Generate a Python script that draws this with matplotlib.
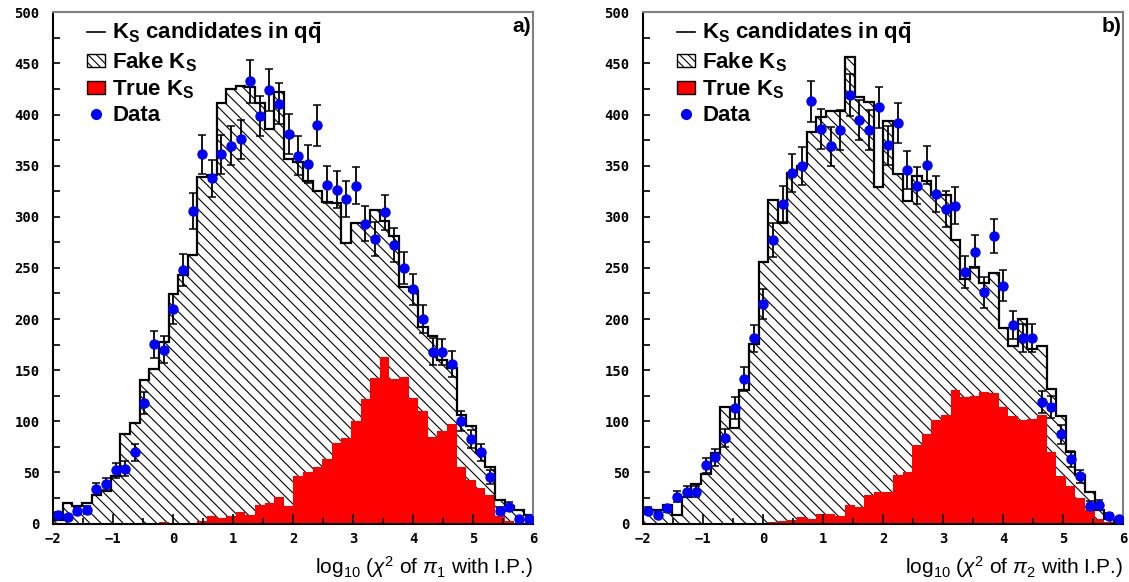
import numpy as np
import matplotlib
matplotlib.use("Agg")
import matplotlib.pyplot as plt
from matplotlib.lines import Line2D
from matplotlib.patches import Patch

# 50 bins from -2 to 6
edges = np.linspace(-2, 6, 51)
centers = 0.5 * (edges[:-1] + edges[1:])

# panel a: pi_1
a_total = [3, 20, 17, 20.5, 28, 32, 46.7, 88, 98, 140,
           151, 177.5, 224, 243, 263, 339, 341, 411, 425, 428,
           427, 411, 386, 422, 356.5, 354, 334.6, 324.8, 314, 313,
           274, 294, 294, 307, 296, 281, 231, 227, 192.5, 183,
           160, 152, 106, 95, 69, 55, 23, 17, 13, 8.5]
a_true = [0, 0, 0, 0, 0, 0, 0, 0, 0, 0,
          0, 1, 0.5, 0.5, 0.5, 2, 6.9, 5, 7.5, 10.8,
          8, 18, 20, 26.4, 17.3, 46.5, 50, 54.8, 63.3, 78.6,
          83.5, 99.8, 121.7, 142, 162.5, 141.6, 143.6, 123, 110, 85,
          90, 97, 54.8, 42.7, 35.2, 28, 6.9, 2, 0.5, 0]
a_data = [8.2, 6.2, 12.7, 13.4, 33.6, 38.5, 52.2, 53.8, 69.5, 117.8,
          175.5, 170, 210, 248, 306, 361, 337.5, 361, 369.5, 375.7,
          432.5, 398.5, 424.3, 410.6, 380.6, 359.7, 351.6, 389.4, 331.3, 326.4,
          317.3, 330.3, 293.1, 278, 304.2, 272.2, 250, 229, 200, 168,
          167.5, 156, 100.2, 82.5, 69.8, 45.4, 12.7, 16.6, 4.6, 4.6]

# panel b: pi_2
b_total = [13.4, 13.4, 18, 8.2, 26.4, 38.8, 48.6, 68.8, 113.9, 93.3,
           130.8, 175.9, 255.4, 316.3, 294, 343, 350, 382.8, 398, 403.7,
           403.7, 456, 416.8, 411.9, 329, 393.3, 342, 315, 339.5, 334.6,
           321.5, 321.5, 277, 239.5, 251, 235.7, 244.9, 191, 173.2, 200,
           170.5, 174, 131.4, 105.4, 69.5, 47.6, 31.3, 13.4, 4.2, 1]
b_true = [0, 0, 0, 0, 0, 0, 0, 0, 0, 0,
          0, 0, 0.5, 1, 2, 3, 6.2, 4.2, 9.1, 9.1,
          6.9, 18.3, 15.7, 28, 30.7, 30.7, 47, 50, 76.3, 87.4,
          100.8, 106.4, 130.2, 123.7, 124.5, 128.5, 127.5, 113.9, 105.4, 100.8,
          102, 106.4, 69.5, 46, 36.9, 24.8, 13.4, 4.2, 1, 0]
b_data = [12.7, 8.2, 14.7, 26.4, 31.3, 31.3, 56.8, 64.6, 83.5, 112.9,
          141.6, 181, 215, 277.4, 312.4, 342.7, 349.3, 412.9, 385.8, 368.8,
          384.5, 419.4, 394.6, 384.5, 407, 369.8, 391.7, 345.3, 330.3, 350.9,
          322.2, 307.5, 311, 245.8, 266, 226, 281.4, 232.5, 194, 181.7,
          181.7, 118.8, 113.9, 87.4, 63, 46, 17.6, 18.3, 7.8, 4.6]

plt.rcParams["hatch.linewidth"] = 0.8
plt.rcParams["mathtext.fontset"] = "custom"
plt.rcParams["mathtext.rm"] = "Liberation Sans"
plt.rcParams["mathtext.it"] = "Liberation Sans:italic"
plt.rcParams["mathtext.bf"] = "Liberation Sans:bold"

tick_font = {"family": "DejaVu Sans Mono", "weight": "bold", "size": 10}


def draw_panel(ax, total, true, data, tag, xlabel):
    ax.stairs(total, edges, fill=True, facecolor="white", edgecolor="black",
              hatch="\\\\\\", linewidth=0)
    ax.stairs(true, edges, fill=True, facecolor="red", edgecolor="none", linewidth=0)
    ax.stairs(total, edges, color="black", linewidth=1.6, baseline=0)
    ax.errorbar(centers, data, yerr=np.sqrt(data), fmt="o", color="blue",
                ms=6.5, ecolor="black", elinewidth=1.3, capsize=3, capthick=1.1,
                zorder=5)

    ax.set_xlim(-2, 6)
    ax.set_ylim(0, 500)
    ax.set_xticks(range(-2, 7))
    ax.set_xticks(np.arange(-2, 6.01, 0.5), minor=True)
    ax.set_yticks(range(0, 501, 50))
    ax.set_yticks(range(0, 501, 25), minor=True)
    ax.tick_params(which="both", direction="in", width=1.2)
    ax.tick_params(axis="x", which="major", length=7, pad=6)
    ax.tick_params(axis="x", which="minor", length=4)
    ax.tick_params(axis="y", which="both", length=5, pad=10)
    ax.set_xticklabels([str(v).replace("-", "\u2212") for v in range(-2, 7)],
                       fontdict=tick_font)
    ax.set_yticklabels([str(v) for v in range(0, 501, 50)], fontdict=tick_font)

    for side in ("left", "bottom"):
        ax.spines[side].set_color("black")
        ax.spines[side].set_linewidth(1.5)
    for side in ("top", "right"):
        ax.spines[side].set_color("gray")
        ax.spines[side].set_linewidth(1.5)

    handles = [
        Line2D([], [], color="black", lw=1.2),
        Patch(facecolor="white", edgecolor="black", hatch="\\\\\\\\", lw=1),
        Patch(facecolor="red", edgecolor="black", lw=1),
        Line2D([], [], color="blue", marker="o", ms=7, ls="none"),
    ]
    labels = [r"K$_\mathbf{S}$ candidates in $\mathbf{q\bar{q}}$",
              r"Fake K$_\mathbf{S}$", r"True K$_\mathbf{S}$", "Data"]
    ax.legend(handles, labels, loc="upper left", bbox_to_anchor=(0.07, 0.985),
              frameon=False, prop={"family": "Liberation Sans", "weight": "bold", "size": 16},
              handlelength=0.8, handleheight=0.5, handletextpad=0.35,
              labelspacing=0.2, borderaxespad=0, borderpad=0)

    ax.text(0.995, 0.99, tag, transform=ax.transAxes, ha="right", va="top",
            fontsize=15, fontweight="bold", family="Liberation Sans")
    ax.text(1.0, -0.085, xlabel, transform=ax.transAxes, ha="right", va="center",
            fontsize=15, family="Liberation Sans")


fig = plt.figure(figsize=(11.29, 5.82), dpi=100)
ax_a = fig.add_axes([0.0472, 0.1005, 0.4252, 0.8784])
ax_b = fig.add_axes([0.5698, 0.1005, 0.4252, 0.8784])

draw_panel(ax_a, a_total, a_true, a_data, "a)",
           r"$\mathrm{log_{10}}$ ($\chi^2$ of $\pi_1$ with I.P.)")
draw_panel(ax_b, b_total, b_true, b_data, "b)",
           r"$\mathrm{log_{10}}$ ($\chi^2$ of $\pi_2$ with I.P.)")

fig.savefig("out.png", dpi=100)
plt.close(fig)
